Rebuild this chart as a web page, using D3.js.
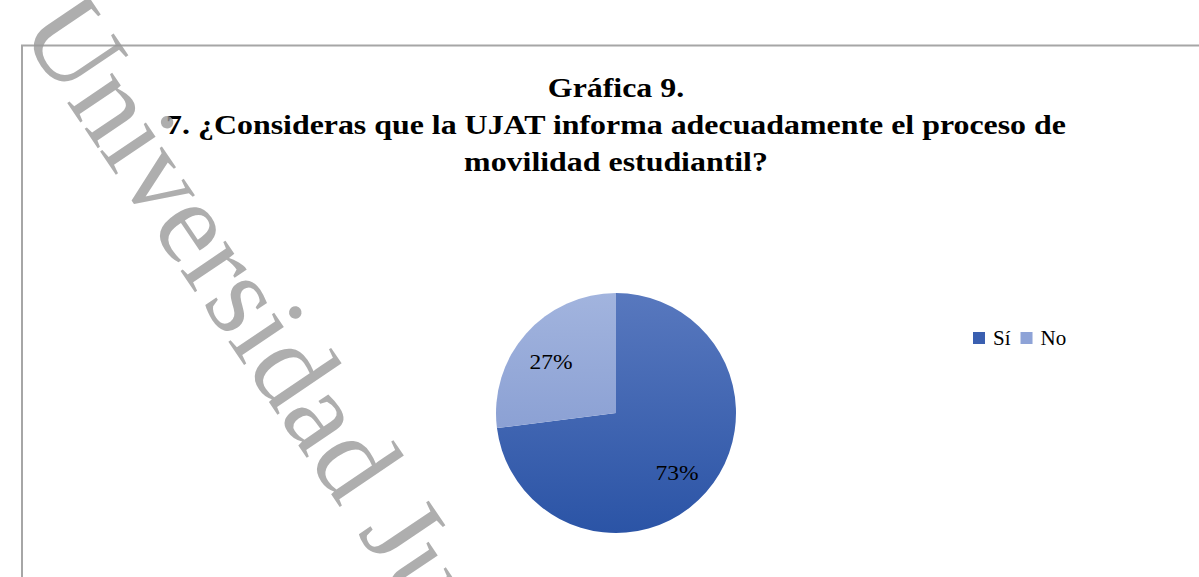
<!DOCTYPE html>
<html>
<head>
<meta charset="utf-8">
<script src="https://cdn.jsdelivr.net/npm/d3@7"></script>
<style>
  html, body { margin: 0; padding: 0; background: #fff; overflow: hidden; }
  text { font-family: "Liberation Serif", "Times New Roman", serif; }
</style>
</head>
<body>
<div id="chart"></div>
<script>
const width = 1199,
      height = 577;

const categories = ['Sí', 'No'];
const values = [73, 27];
const titleLines = [
    'Gráfica 9.',
    '7. ¿Consideras que la UJAT informa adecuadamente el proceso de',
    'movilidad estudiantil?'
];
const watermark = 'Universidad Juárez Autónoma de Tabasco';

const svg = d3.select('#chart').append('svg')
    .attr('width', width)
    .attr('height', height);

const defs = svg.append('defs');
const grads = [
    { id: 'g-si', top: '#5878be', bottom: '#2b54a6' },
    { id: 'g-no', top: '#a2b4de', bottom: '#7a92cc' }
];
grads.forEach(g => {
    const lg = defs.append('linearGradient')
        .attr('id', g.id)
        .attr('gradientUnits', 'userSpaceOnUse')
        .attr('x1', 0).attr('y1', -120).attr('x2', 0).attr('y2', 120);
    lg.append('stop').attr('offset', '0%').attr('stop-color', g.top);
    lg.append('stop').attr('offset', '100%').attr('stop-color', g.bottom);
});
const color = d3.scaleOrdinal().domain(categories).range(['url(#g-si)', 'url(#g-no)']);
const legendColor = d3.scaleOrdinal().domain(categories).range(['#3a5fb0', '#8ea3d7']);

// frame
svg.append('rect')
    .attr('x', 22).attr('y', 45.5)
    .attr('width', width + 20).attr('height', height + 20)
    .attr('fill', 'none')
    .attr('stroke', '#a6a6a6')
    .attr('stroke-width', 2);

// title (stretched horizontally like the source)
svg.append('g')
    .attr('transform', 'translate(616,0) scale(1.16,1)')
    .selectAll('text')
    .data(titleLines)
    .enter().append('text')
    .attr('x', 0)
    .attr('y', (d, i) => 97 + i * 37)
    .attr('text-anchor', 'middle')
    .style('font-size', '27.5px')
    .style('font-weight', 'bold')
    .attr('fill', '#000')
    .text(d => d);

// pie
const radius = 120;
const pie = d3.pie().sort(null).value(d => d.value);
const arc = d3.arc().innerRadius(0).outerRadius(radius);
const arcs = pie(categories.map((c, i) => ({ name: c, value: values[i] })));

const g = svg.append('g').attr('transform', 'translate(616,413)');

g.selectAll('path')
    .data(arcs)
    .enter().append('path')
    .attr('d', arc)
    .attr('fill', d => color(d.data.name));

const labelArc = d3.arc().innerRadius(radius * 0.7).outerRadius(radius * 0.7);
g.selectAll('text.lbl')
    .data(arcs)
    .enter().append('text')
    .attr('class', 'lbl')
    .attr('transform', d => {
        const [cx, cy] = labelArc.centroid(d);
        return `translate(${cx - 2},${cy + 4}) scale(1.12,1)`;
    })
    .attr('text-anchor', 'middle')
    .attr('dy', '0.35em')
    .style('font-size', '21px')
    .attr('fill', '#000')
    .text(d => d3.format('.0%')(d.data.value / 100));

// legend
const legend = svg.append('g').attr('transform', 'translate(973,332)');
let lx = 0;
categories.forEach(c => {
    const row = legend.append('g').attr('transform', `translate(${lx},0)`);
    row.append('rect')
        .attr('width', 12).attr('height', 12)
        .attr('fill', legendColor(c));
    const t = row.append('text')
        .attr('x', 20).attr('y', 13)
        .style('font-size', '21px')
        .attr('fill', '#000')
        .text(c);
    lx += 20 + t.node().getComputedTextLength() + 10;
});

// watermark
svg.append('text')
    .attr('transform', 'translate(18,30) rotate(56)')
    .style('font-size', '118px')
    .attr('fill', '#9a9a9a')
    .attr('fill-opacity', 0.8)
    .text(watermark);
</script>
</body>
</html>
